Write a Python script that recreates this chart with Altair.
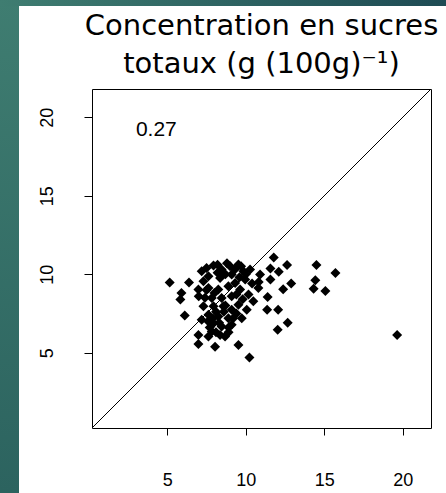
import altair as alt
import pandas as pd

# Observed vs predicted total sugar concentration (g per 100 g)
x_vals = [
    7.19, 7.94, 8.46, 9.00, 9.53, 9.85, 10.27, 10.91, 10.80, 10.17, 10.48, 10.06,
    9.74, 9.10, 9.53, 8.04, 6.98, 7.30, 6.98, 7.62, 8.25, 8.89, 9.32, 9.64,
    7.62, 9.10, 7.83, 8.46, 9.10, 7.30, 7.94, 8.57, 9.10, 9.53, 7.62, 8.25,
    8.89, 7.19, 7.94, 8.46, 7.83, 8.36, 8.68, 7.62, 6.98, 8.36, 9.96,
    5.15, 6.38, 5.90, 5.83, 6.11, 10.23, 12.03, 12.67, 12.06, 11.36, 11.39, 12.38,
    12.89, 11.57, 12.10, 12.63, 11.78, 11.57, 14.50, 15.71, 14.43, 14.32, 15.07,
    19.64, 10.82,
    8.70, 9.30, 8.00, 8.70, 7.60, 8.10, 8.20, 7.40, 8.90, 9.40,
    7.50, 8.20, 8.80, 9.70, 10.00, 7.00, 7.50, 9.40, 9.80, 8.60, 9.20, 7.90,
    8.30, 7.70, 8.10, 8.90, 10.40, 9.60,
]
y_vals = [
    10.19, 10.56, 10.30, 10.51, 10.62, 10.19, 10.30, 9.98, 9.12, 8.70, 8.27, 7.74,
    7.20, 6.78, 5.49, 5.38, 5.56, 9.55, 9.02, 9.12, 9.02, 9.23, 9.44, 9.02,
    9.87, 9.98, 8.48, 8.48, 8.59, 7.95, 7.95, 7.95, 7.74, 8.06, 7.42, 7.31,
    7.20, 7.10, 6.88, 6.67, 6.35, 6.13, 6.03, 6.03, 6.13, 9.76, 9.66,
    9.47, 9.47, 8.80, 8.38, 7.37, 4.70, 6.46, 6.90, 7.74, 7.74, 8.54, 9.04,
    9.40, 9.66, 10.15, 10.58, 11.07, 10.37, 10.58, 10.08, 9.62, 9.08, 8.93,
    6.13, 9.51,
    10.00, 10.30, 8.80, 8.00, 7.00, 7.60, 10.10, 8.50, 6.60, 7.50,
    10.40, 10.60, 10.70, 10.50, 10.00, 8.60, 9.00, 8.70, 8.40, 7.60, 7.20, 7.20,
    6.90, 6.60, 6.30, 6.30, 9.40, 9.80,
]

axis_ticks = [5, 10, 15, 20]
domain = [0.2, 21.8]
r_text = "0.27"
r_pos = (4.3, 19.2)
title_lines = ["Concentration en sucres", "totaux (g (100g)\u207b\u00b9)"]

pts = pd.DataFrame({"x": x_vals, "y": y_vals})
ident = pd.DataFrame({"x": domain, "y": domain})
note = pd.DataFrame({"x": [r_pos[0]], "y": [r_pos[1]], "t": [r_text]})
dummy = pd.DataFrame({"k": [0]})

xs = alt.Scale(domain=domain, nice=False, zero=False)
ys = alt.Scale(domain=domain, nice=False, zero=False)

x_axis = alt.Axis(
    title=None, values=axis_ticks, format="d", grid=False, domain=False,
    ticks=True, tickSize=7, tickColor="black", tickWidth=1,
    labelFont="Liberation Sans", labelFontSize=18, labelColor="black",
    labelPadding=36, labelFlush=False, labelOverlap=False,
)
y_axis = alt.Axis(
    title=None, values=axis_ticks, format="d", grid=False, domain=False,
    ticks=True, tickSize=8, tickColor="black", tickWidth=1,
    labelFont="Liberation Sans", labelFontSize=18, labelColor="black",
    labelAngle=270, labelAlign="center", labelBaseline="bottom",
    labelPadding=28, labelFlush=False, labelOverlap=False,
)

# slide decoration: teal bands along the left and top edges
left_band = alt.Chart(dummy).mark_rect(
    fill=alt.LinearGradient(
        gradient="linear", x1=0, x2=0, y1=0, y2=1,
        stops=[alt.GradientStop(color="#3f7d71", offset=0),
               alt.GradientStop(color="#2c635f", offset=1)],
    )
).encode(x=alt.value(-92), x2=alt.value(-73), y=alt.value(-89), y2=alt.value(404))

top_band = alt.Chart(dummy).mark_rect(
    fill=alt.LinearGradient(
        gradient="linear", x1=0, x2=1, y1=0, y2=0,
        stops=[alt.GradientStop(color="#3f7d71", offset=0),
               alt.GradientStop(color="#1e4b54", offset=1)],
    )
).encode(x=alt.value(-92), x2=alt.value(354), y=alt.value(-89), y2=alt.value(-83))

line = alt.Chart(ident).mark_line(color="black", strokeWidth=1, clip=True).encode(
    x=alt.X("x:Q", scale=xs, axis=x_axis),
    y=alt.Y("y:Q", scale=ys, axis=y_axis),
)

points = alt.Chart(pts).mark_point(
    shape="diamond", filled=True, color="black", size=100, opacity=1
).encode(
    x=alt.X("x:Q", scale=xs),
    y=alt.Y("y:Q", scale=ys),
)

label = alt.Chart(note).mark_text(
    font="Liberation Sans", fontSize=21, color="black", align="center", baseline="middle"
).encode(
    x=alt.X("x:Q", scale=xs),
    y=alt.Y("y:Q", scale=ys),
    text="t:N",
)

# the title sits above the content bounds (which include the top band),
# so dy brings it back down just above the plot frame
chart = alt.layer(left_band, top_band, line, points, label).properties(
    width=339,
    height=339,
    autosize=alt.AutoSizeParams(type="none"),
    padding={"left": 92, "top": 89, "right": 15, "bottom": 65},
    background="white",
    title=alt.TitleParams(
        text=title_lines, font="DejaVu Sans", fontSize=29, fontWeight="normal",
        color="black", anchor="middle", frame="group", lineHeight=38,
        offset=12, dy=91,
    ),
).configure_view(stroke="black", strokeWidth=1)

chart.save("out.html", embed_options={"renderer": "svg", "actions": False})
